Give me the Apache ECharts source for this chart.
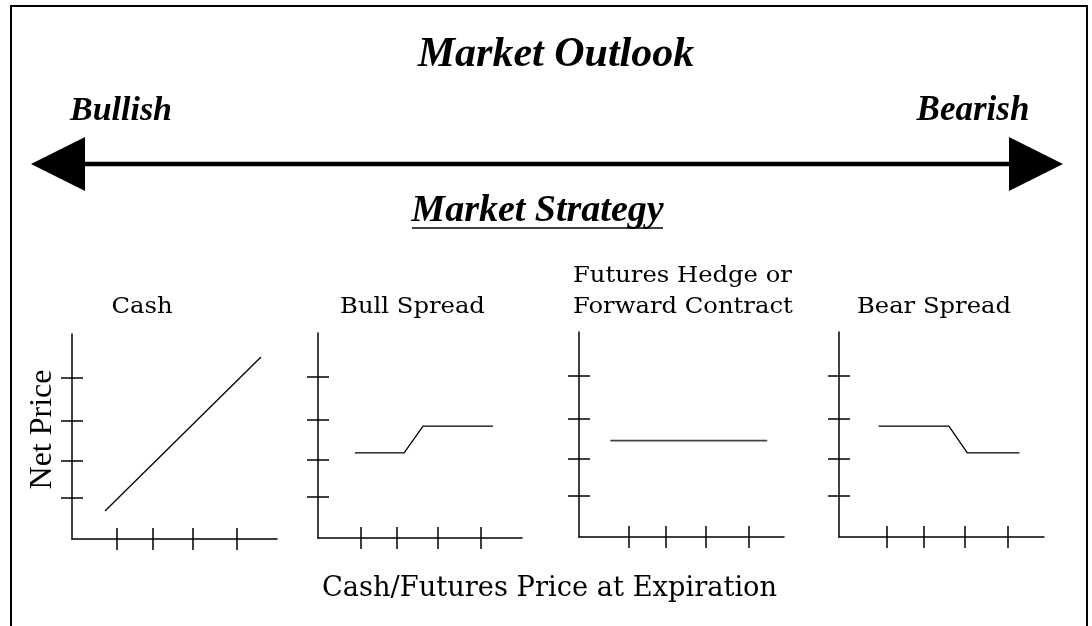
<!DOCTYPE html>
<html>
<head>
<meta charset="utf-8">
<script src="https://cdn.jsdelivr.net/npm/echarts@6/dist/echarts.min.js"></script>
<style>
html,body{margin:0;padding:0;background:#fff;}
#chart{width:1092px;height:626px;}
</style>
</head>
<body>
<div id="chart"></div>
<script>
// ---- texts ----
const mainTitle = 'Market Outlook';
const leftLabel = 'Bullish';
const rightLabel = 'Bearish';
const strategyTitle = 'Market Strategy';
const panelTitles = ['Cash', 'Bull Spread', ['Futures Hedge or', 'Forward Contract'], 'Bear Spread'];
const yAxisName = 'Net Price';
const xAxisName = 'Cash/Futures Price at Expiration';

// ---- tick positions (value units, axis 0..10) ----
const xTicks = [
  [2.20, 3.95, 5.90, 8.05],
  [2.11, 3.87, 5.88, 7.99],
  [2.41, 4.23, 6.19, 8.27],
  [2.35, 4.15, 6.11, 8.21]
];
const yTicks = [2.0, 3.8, 5.77, 7.87];

// ---- payoff lines ----
const cashX  = [1.61, 9.22];
const cashY  = [1.37, 8.88];
const bullX  = [1.81, 4.22, 5.15, 8.58];
const bullY  = [4.15, 4.15, 5.46, 5.46];
const hedgeX = [1.53, 9.18];
const hedgeY = [4.70, 4.70];
const bearX  = [1.93, 5.36, 6.26, 8.80];
const bearY  = [5.41, 5.41, 4.10, 4.10];

const panelsX = [cashX, bullX, hedgeX, bearX];
const panelsY = [cashY, bullY, hedgeY, bearY];

// ---- layout ----
const grids = [
  {left: 72,  top: 334, width: 205, height: 205},
  {left: 318, top: 333, width: 204, height: 205},
  {left: 579, top: 332, width: 205, height: 205},
  {left: 839, top: 332, width: 205, height: 205}
];

const AXMAX = 10;
const xAxes = [], yAxes = [], series = [];
grids.forEach((g, i) => {
  // two overlapping axes per direction: one with outward ticks, one with inward ticks,
  // so the ticks cross the axis line as in the reference
  [false, true].forEach(inside => {
    xAxes.push({
      type: 'value', gridIndex: i, min: 0, max: AXMAX, position: 'bottom', offset: 0,
      axisLine: {show: !inside, onZero: false, lineStyle: {color: '#000', width: 1.5}},
      axisTick: {show: true, inside: inside, length: 11, customValues: xTicks[i],
                 lineStyle: {color: '#000', width: 1.5}},
      axisLabel: {show: false}, splitLine: {show: false}
    });
    yAxes.push({
      type: 'value', gridIndex: i, min: 0, max: AXMAX, position: 'left', offset: 0,
      axisLine: {show: !inside, onZero: false, lineStyle: {color: '#000', width: 1.5}},
      axisTick: {show: true, inside: inside, length: 11, customValues: yTicks,
                 lineStyle: {color: '#000', width: 1.5}},
      axisLabel: {show: false}, splitLine: {show: false}
    });
  });
  series.push({
    type: 'line', xAxisIndex: 2 * i, yAxisIndex: 2 * i,
    data: panelsX[i].map((x, k) => [x, panelsY[i][k]]),
    symbol: 'none', silent: true,
    lineStyle: {color: i === 2 ? '#444' : '#000', width: i === 2 ? 1.6 : 1.3}
  });
});

const titleFont = '"Liberation Serif", "Times New Roman", serif';
const bodyFont = '"DejaVu Serif", serif';

function txt(text, x, y, size, opts) {
  opts = opts || {};
  return {
    type: 'text', x: x, y: y, rotation: opts.rotation || 0, silent: true,
    scaleX: opts.sx || 1,
    style: {
      text: text, fill: '#000',
      font: (opts.italic ? 'italic ' : '') + (opts.bold ? 'bold ' : '') + size + 'px ' + (opts.family || bodyFont),
      align: opts.align || 'center', verticalAlign: 'middle'
    }
  };
}

const SX = 1.055;
const graphics = [
  // border
  {type: 'rect', silent: true, shape: {x: 11, y: 6, width: 1076, height: 700},
   style: {fill: 'none', stroke: '#000', lineWidth: 2}},
  // double arrow
  {type: 'line', silent: true, shape: {x1: 84, y1: 164, x2: 1010, y2: 164},
   style: {stroke: '#000', lineWidth: 4.5}},
  {type: 'polygon', silent: true, shape: {points: [[31, 164], [85, 137], [85, 191]]},
   style: {fill: '#000'}},
  {type: 'polygon', silent: true, shape: {points: [[1063, 164], [1009, 137], [1009, 191]]},
   style: {fill: '#000'}},
  // underline
  {type: 'line', silent: true, shape: {x1: 412, y1: 228, x2: 663, y2: 228},
   style: {stroke: '#000', lineWidth: 1.6}},
  txt(mainTitle, 556, 55, 42, {bold: true, italic: true, family: titleFont}),
  txt(leftLabel, 121, 111, 34, {bold: true, italic: true, family: titleFont}),
  txt(rightLabel, 973, 111, 35, {bold: true, italic: true, family: titleFont}),
  txt(strategyTitle, 537.5, 211, 38, {bold: true, italic: true, family: titleFont}),
  txt(panelTitles[0], 142, 307, 23, {sx: SX}),
  txt(panelTitles[1], 412.5, 307, 23, {sx: SX}),
  txt(panelTitles[2][0], 573, 276, 23, {align: 'left', sx: SX}),
  txt(panelTitles[2][1], 573, 307, 23, {align: 'left', sx: SX}),
  txt(panelTitles[3], 934, 307, 23, {sx: SX}),
  txt(xAxisName, 549.5, 589, 27, {sx: 1.01}),
  txt(yAxisName, 43, 429.5, 32, {rotation: Math.PI / 2, family: titleFont})
];

const chart = echarts.init(document.getElementById('chart'), null, {renderer: 'canvas'});
chart.setOption({
  backgroundColor: '#fff',
  animation: false,
  grid: grids.map(g => Object.assign({containLabel: false}, g)),
  xAxis: xAxes,
  yAxis: yAxes,
  series: series,
  graphic: graphics
});
</script>
</body>
</html>
